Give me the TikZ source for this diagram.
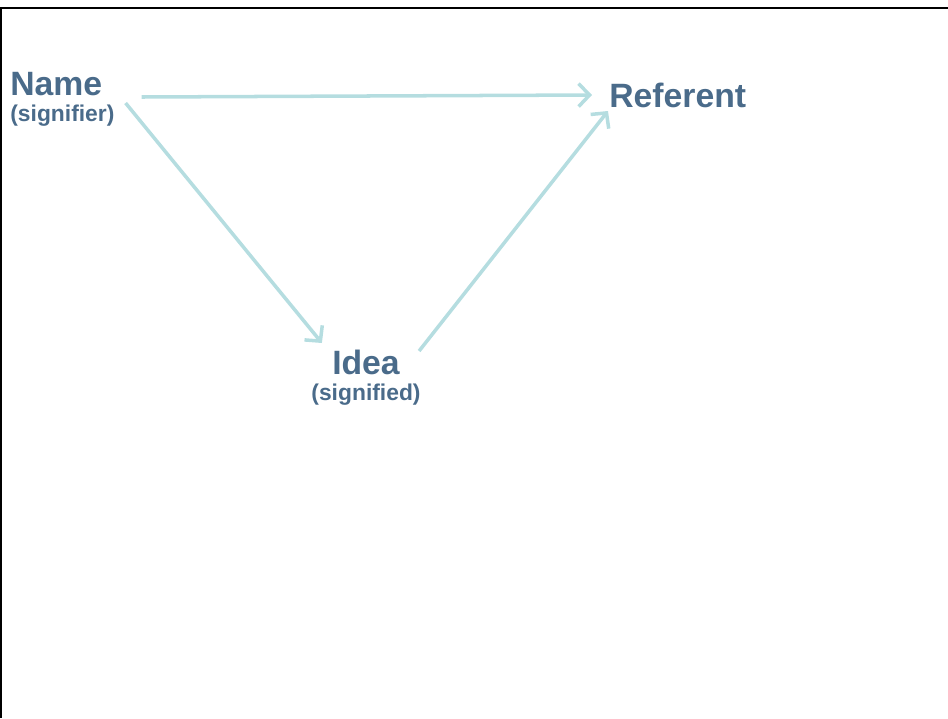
\documentclass[tikz,border=0pt]{standalone}
\usepackage{fontspec}
\setmainfont{Liberation Sans}
\usetikzlibrary{arrows.meta,calc}
\definecolor{labelblue}{HTML}{4A6B8A}
\definecolor{arrowteal}{HTML}{B5DDE0}
\begin{document}
\begin{tikzpicture}[x=0.02cm, y=-0.02cm,
        big/.style={inner sep=0pt, text=labelblue, font=\bfseries\fontsize{19.2}{22}\selectfont},
        small/.style={inner sep=0pt, text=labelblue, font=\bfseries\fontsize{13}{15}\selectfont},
        link/.style={arrowteal, line width=2pt, -{Straight Barb[length=2.2mm,width=4.6mm]}}]
            \useasboundingbox (0, 0) rectangle (948, 718);
            \draw[line width=1.6pt] (1, 718) -- (1, 8) -- (948, 8);
            \node[big, anchor=base west] (name) at (10, 95) {Name};
            \node[small, anchor=base west] (signifier) at (10, 121) {(signifier)};
            \node[big, anchor=base west] (referent) at (609, 107) {Referent};
            \node[big, anchor=base] (idea) at (366, 374) {Idea};
            \node[small, anchor=base] (signified) at (366, 400) {(signified)};
            \draw[link] ($(name.base east) + (39, 2)$) -- ($(referent.base west) + (-17, -12)$);
            \draw[link] ($(name.base east) + (23, 8)$) -- ($(idea.base west) + (-10, -31)$);
            \draw[link] ($(idea.base east) + (19, -23)$) -- ($(referent.base west) + (-1, 4)$);
        \end{tikzpicture}
\end{document}
